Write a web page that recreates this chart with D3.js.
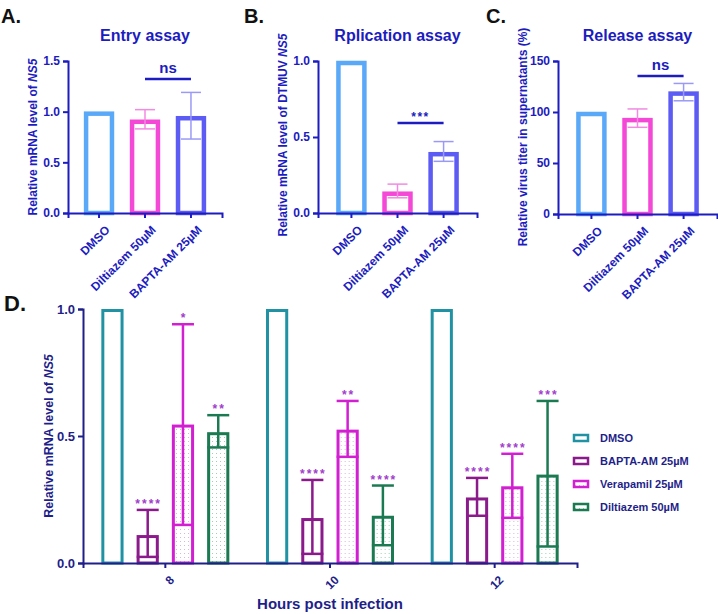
<!DOCTYPE html>
<html>
<head>
<meta charset="utf-8">
<script src="https://cdn.jsdelivr.net/npm/d3@7"></script>
<style>
  body { margin: 0; background: #fff; }
  svg { font-family: Arial, "Liberation Sans", sans-serif; font-weight: bold; }
</style>
</head>
<body>
<div id="chart"></div>
<script>
// ---- data ----
let topCats = ['DMSO', 'Diltiazem 50µM', 'BAPTA-AM 25µM'];
let topColors = ['#5aa8f8', '#f448d6', '#5c5cf4'];
let topErrColors = ['#9ccaf8', '#f28ae2', '#9a9af6'];

let entryMean = [1.0, 0.92, 0.955];
let entryLow = [null, 0.83, 0.73];
let entryHigh = [null, 1.02, 1.19];

let replMean = [1.0, 0.14, 0.40];
let replLow = [null, 0.10, 0.34];
let replHigh = [null, 0.19, 0.47];

let relMean = [100, 94, 120];
let relLow = [null, 85, 111];
let relHigh = [null, 103, 128];

let hours = ['8', '10', '12'];
let series = ['DMSO', 'BAPTA-AM 25µM', 'Verapamil 25µM', 'Diltiazem  50µM'];
let seriesColors = ['#2192a3', '#8b1b8b', '#d21fd2', '#1c7a52'];
// values per hour group, order of series
let dMean = [[1.0, 0.11, 0.545, 0.515], [1.0, 0.177, 0.525, 0.186], [1.0, 0.258, 0.302, 0.348]];
let dLow = [[null, 0.024, 0.15, 0.455], [null, 0.036, 0.418, 0.07], [null, 0.186, 0.178, 0.065]];
let dHigh = [[null, 0.209, 0.94, 0.582], [null, 0.327, 0.638, 0.305], [null, 0.335, 0.43, 0.638]];
let dStars = [[null, '****', '*', '**'], [null, '****', '**', '****'], [null, '****', '****', '***']];

let W = 718, H = 614;
let blue = '#1c1cc0', navy = '#1f1f8a';

let svg = d3.select('#chart').append('svg')
    .attr('width', W)
    .attr('height', H);

// dotted fill patterns
function addPattern(id, dot) {
    let p = svg.append('defs').append('pattern')
        .attr('id', id)
        .attr('width', 4).attr('height', 4)
        .attr('patternUnits', 'userSpaceOnUse');
    p.append('rect').attr('width', 4).attr('height', 4).attr('fill', '#fff');
    p.append('rect').attr('x', 1).attr('y', 1).attr('width', 1).attr('height', 1).attr('fill', dot);
}
addPattern('dotPink', '#d8b8d8');
addPattern('dotGreen', '#9cd0b8');
let seriesFill = ['#fff', '#fff', 'url(#dotPink)', 'url(#dotGreen)'];

// ---- top panels ----
function drawTop(cfg) {
    let g = svg.append('g');
    let x = d3.scaleBand()
        .domain(topCats)
        .range([cfg.x0, cfg.x1])
        .paddingInner(0.35)
        .paddingOuter(cfg.po);
    let y = d3.scaleLinear()
        .domain([0, cfg.max])
        .range([cfg.yb, 61]);

    g.append('text')
        .attr('x', cfg.lx).attr('y', 23)
        .attr('font-size', 20).attr('fill', '#111')
        .text(cfg.letter);
    g.append('text')
        .attr('x', (cfg.x0 + cfg.x1) / 2 + cfg.tdx).attr('y', 41)
        .attr('text-anchor', 'middle')
        .attr('font-size', 16).attr('fill', blue)
        .text(cfg.title);

    g.selectAll('rect.bar')
        .data(cfg.mean)
        .join('rect')
        .attr('class', 'bar')
        .attr('x', (d, i) => x(topCats[i]) + 2)
        .attr('y', d => y(d) + 2)
        .attr('width', x.bandwidth() - 4)
        .attr('height', d => y(0) - y(d) - 2)
        .attr('fill', '#fff')
        .attr('stroke', (d, i) => topColors[i])
        .attr('stroke-width', 4.5);

    cfg.mean.forEach((m, i) => {
        if (cfg.low[i] == null) return;
        let cx = x(topCats[i]) + x.bandwidth() / 2;
        let col = topErrColors[i];
        g.append('line')
            .attr('x1', cx).attr('x2', cx)
            .attr('y1', y(cfg.low[i])).attr('y2', y(cfg.high[i]))
            .attr('stroke', col).attr('stroke-width', 1.5);
        [cfg.low[i], cfg.high[i]].forEach(v => {
            g.append('line')
                .attr('x1', cx - 10).attr('x2', cx + 10)
                .attr('y1', y(v)).attr('y2', y(v))
                .attr('stroke', col).attr('stroke-width', 1.5);
        });
    });

    let xa = g.append('g')
        .attr('transform', `translate(0, ${cfg.yb})`)
        .call(d3.axisBottom(x).tickSizeOuter(0).tickSize(5));
    xa.select('.domain').attr('stroke', blue).attr('stroke-width', 2);
    xa.selectAll('.tick line').attr('stroke', blue).attr('stroke-width', 2);
    xa.selectAll('.tick text')
        .attr('font-size', 12).attr('fill', blue)
        .attr('text-anchor', 'end')
        .attr('dy', 0)
        .attr('transform', 'translate(6, 12) rotate(-45)');

    let ya = g.append('g')
        .attr('transform', `translate(${cfg.x0}, 0)`)
        .call(d3.axisLeft(y).tickValues(cfg.ticks).tickFormat(cfg.fmt).tickSizeOuter(0).tickSize(5));
    ya.select('.domain').attr('stroke', blue).attr('stroke-width', 2);
    ya.selectAll('.tick line').attr('stroke', blue).attr('stroke-width', 2);
    ya.selectAll('.tick text').attr('font-size', 12).attr('fill', blue);

    let yl = g.append('text')
        .attr('transform', `translate(${cfg.ylx}, ${cfg.yly}) rotate(-90)`)
        .attr('text-anchor', 'middle')
        .attr('font-size', 12).attr('fill', blue);
    cfg.ylabel.forEach(([t, it]) => {
        yl.append('tspan').attr('font-style', it ? 'italic' : 'normal').text(t);
    });

    // significance bracket between bars 2 and 3
    let xa1 = x(topCats[1]) + x.bandwidth() / 2, xa2 = x(topCats[2]) + x.bandwidth() / 2;
    g.append('line')
        .attr('x1', xa1).attr('x2', xa2)
        .attr('y1', cfg.sigY).attr('y2', cfg.sigY)
        .attr('stroke', blue).attr('stroke-width', 2.5);
    g.append('text')
        .attr('x', (xa1 + xa2) / 2).attr('y', cfg.sigY - (cfg.sig == 'ns' ? 6 : 2))
        .attr('text-anchor', 'middle')
        .attr('font-size', cfg.sig == 'ns' ? 15 : 12)
        .attr('letter-spacing', cfg.sig == 'ns' ? 0 : 1.5)
        .attr('fill', blue)
        .text(cfg.sig);
}

drawTop({letter: 'A.', lx: 1, title: 'Entry assay', tdx: 0, x0: 68, x1: 222, po: 0.35, yb: 213, max: 1.5,
    ticks: [0, 0.5, 1.0, 1.5], fmt: d3.format('.1f'),
    mean: entryMean, low: entryLow, high: entryHigh,
    ylx: 37, yly: 137, ylabel: [['Relative mRNA level of ', false], ['NS5', true]],
    sigY: 79, sig: 'ns'});
drawTop({letter: 'B.', lx: 244, title: 'Rplication assay', tdx: 0, x0: 318, x1: 477, po: 0.4, yb: 213, max: 1.0,
    ticks: [0, 0.5, 1.0], fmt: d3.format('.1f'),
    mean: replMean, low: replLow, high: replHigh,
    ylx: 287, yly: 135, ylabel: [['Relative mRNA level of DTMUV ', false], ['NS5', true]],
    sigY: 123, sig: '***'});
drawTop({letter: 'C.', lx: 486, title: 'Release assay', tdx: 0, x0: 558, x1: 717, po: 0.4, yb: 214, max: 150,
    ticks: [0, 50, 100, 150], fmt: d3.format('d'),
    mean: relMean, low: relLow, high: relHigh,
    ylx: 527, yly: 137, ylabel: [['Relative virus titer in supernatants (%)', false]],
    sigY: 76, sig: 'ns'});

// ---- panel D ----
let dx0 = d3.scaleBand()
    .domain(hours)
    .range([83, 577]);
let dx1 = d3.scaleBand()
    .domain(series)
    .range([0, dx0.bandwidth()])
    .paddingInner(0.37)
    .paddingOuter(0.52);
let dy = d3.scaleLinear()
    .domain([0, 1])
    .range([563, 309]);

let dg = svg.append('g');
dg.append('text')
    .attr('x', 4).attr('y', 311)
    .attr('font-size', 22).attr('fill', '#111')
    .text('D.');

hours.forEach((h, gi) => {
    let gg = dg.append('g').attr('transform', `translate(${dx0(h)}, 0)`);
    series.forEach((s, si) => {
        let bx = dx1(s), bw = dx1.bandwidth();
        let m = dMean[gi][si];
        gg.append('rect')
            .attr('x', bx + 1.5).attr('y', dy(m) + 1.5)
            .attr('width', bw - 3).attr('height', dy(0) - dy(m) - 1.5)
            .attr('fill', seriesFill[si])
            .attr('stroke', seriesColors[si])
            .attr('stroke-width', 3);
        if (dLow[gi][si] == null) return;
        let cx = bx + bw / 2;
        gg.append('line')
            .attr('x1', cx).attr('x2', cx)
            .attr('y1', dy(dLow[gi][si])).attr('y2', dy(dHigh[gi][si]))
            .attr('stroke', seriesColors[si]).attr('stroke-width', 2.5);
        [dLow[gi][si], dHigh[gi][si]].forEach(v => {
            gg.append('line')
                .attr('x1', cx - 11).attr('x2', cx + 11)
                .attr('y1', dy(v)).attr('y2', dy(v))
                .attr('stroke', seriesColors[si]).attr('stroke-width', 2.5);
        });
        gg.append('text')
            .attr('x', cx + 1).attr('y', dy(dHigh[gi][si]) - 2)
            .attr('text-anchor', 'middle')
            .attr('font-size', 12).attr('letter-spacing', 2)
            .attr('fill', '#a23ccc')
            .text(dStars[gi][si]);
    });
});

let dxa = dg.append('g')
    .attr('transform', 'translate(0, 563)')
    .call(d3.axisBottom(dx0).tickSizeOuter(0).tickSize(5));
dxa.select('.domain').attr('stroke', navy).attr('stroke-width', 2);
dxa.selectAll('.tick line').attr('stroke', navy).attr('stroke-width', 2);
dxa.selectAll('.tick text')
    .attr('font-size', 12).attr('fill', navy)
    .attr('text-anchor', 'end')
    .attr('dy', 0)
    .attr('transform', 'translate(4, 12) rotate(-45)');

let dya = dg.append('g')
    .attr('transform', 'translate(83, 0)')
    .call(d3.axisLeft(dy).tickValues([0, 0.5, 1]).tickFormat(d3.format('.1f')).tickSizeOuter(0).tickSize(5));
dya.select('.domain').attr('stroke', navy).attr('stroke-width', 2);
dya.selectAll('.tick line').attr('stroke', navy).attr('stroke-width', 2);
dya.selectAll('.tick text').attr('font-size', 13).attr('fill', navy);

let dyl = dg.append('text')
    .attr('transform', 'translate(53, 436) rotate(-90)')
    .attr('text-anchor', 'middle')
    .attr('font-size', 12.5).attr('fill', navy);
dyl.append('tspan').text('Relative mRNA level of ');
dyl.append('tspan').attr('font-style', 'italic').text('NS5');

dg.append('text')
    .attr('x', 330).attr('y', 609)
    .attr('text-anchor', 'middle')
    .attr('font-size', 15).attr('fill', navy)
    .text('Hours post infection');

// legend
let leg = dg.append('g').attr('transform', 'translate(574, 438)');
series.forEach((s, i) => {
    let row = leg.append('g').attr('transform', `translate(0, ${i * 23})`);
    row.append('rect')
        .attr('x', 0).attr('y', -3)
        .attr('width', 14).attr('height', 6)
        .attr('fill', seriesFill[i])
        .attr('stroke', seriesColors[i])
        .attr('stroke-width', 2.5);
    row.append('text')
        .attr('x', 26).attr('y', 4)
        .attr('font-size', 11).attr('fill', navy)
        .text(s);
});
</script>
</body>
</html>
